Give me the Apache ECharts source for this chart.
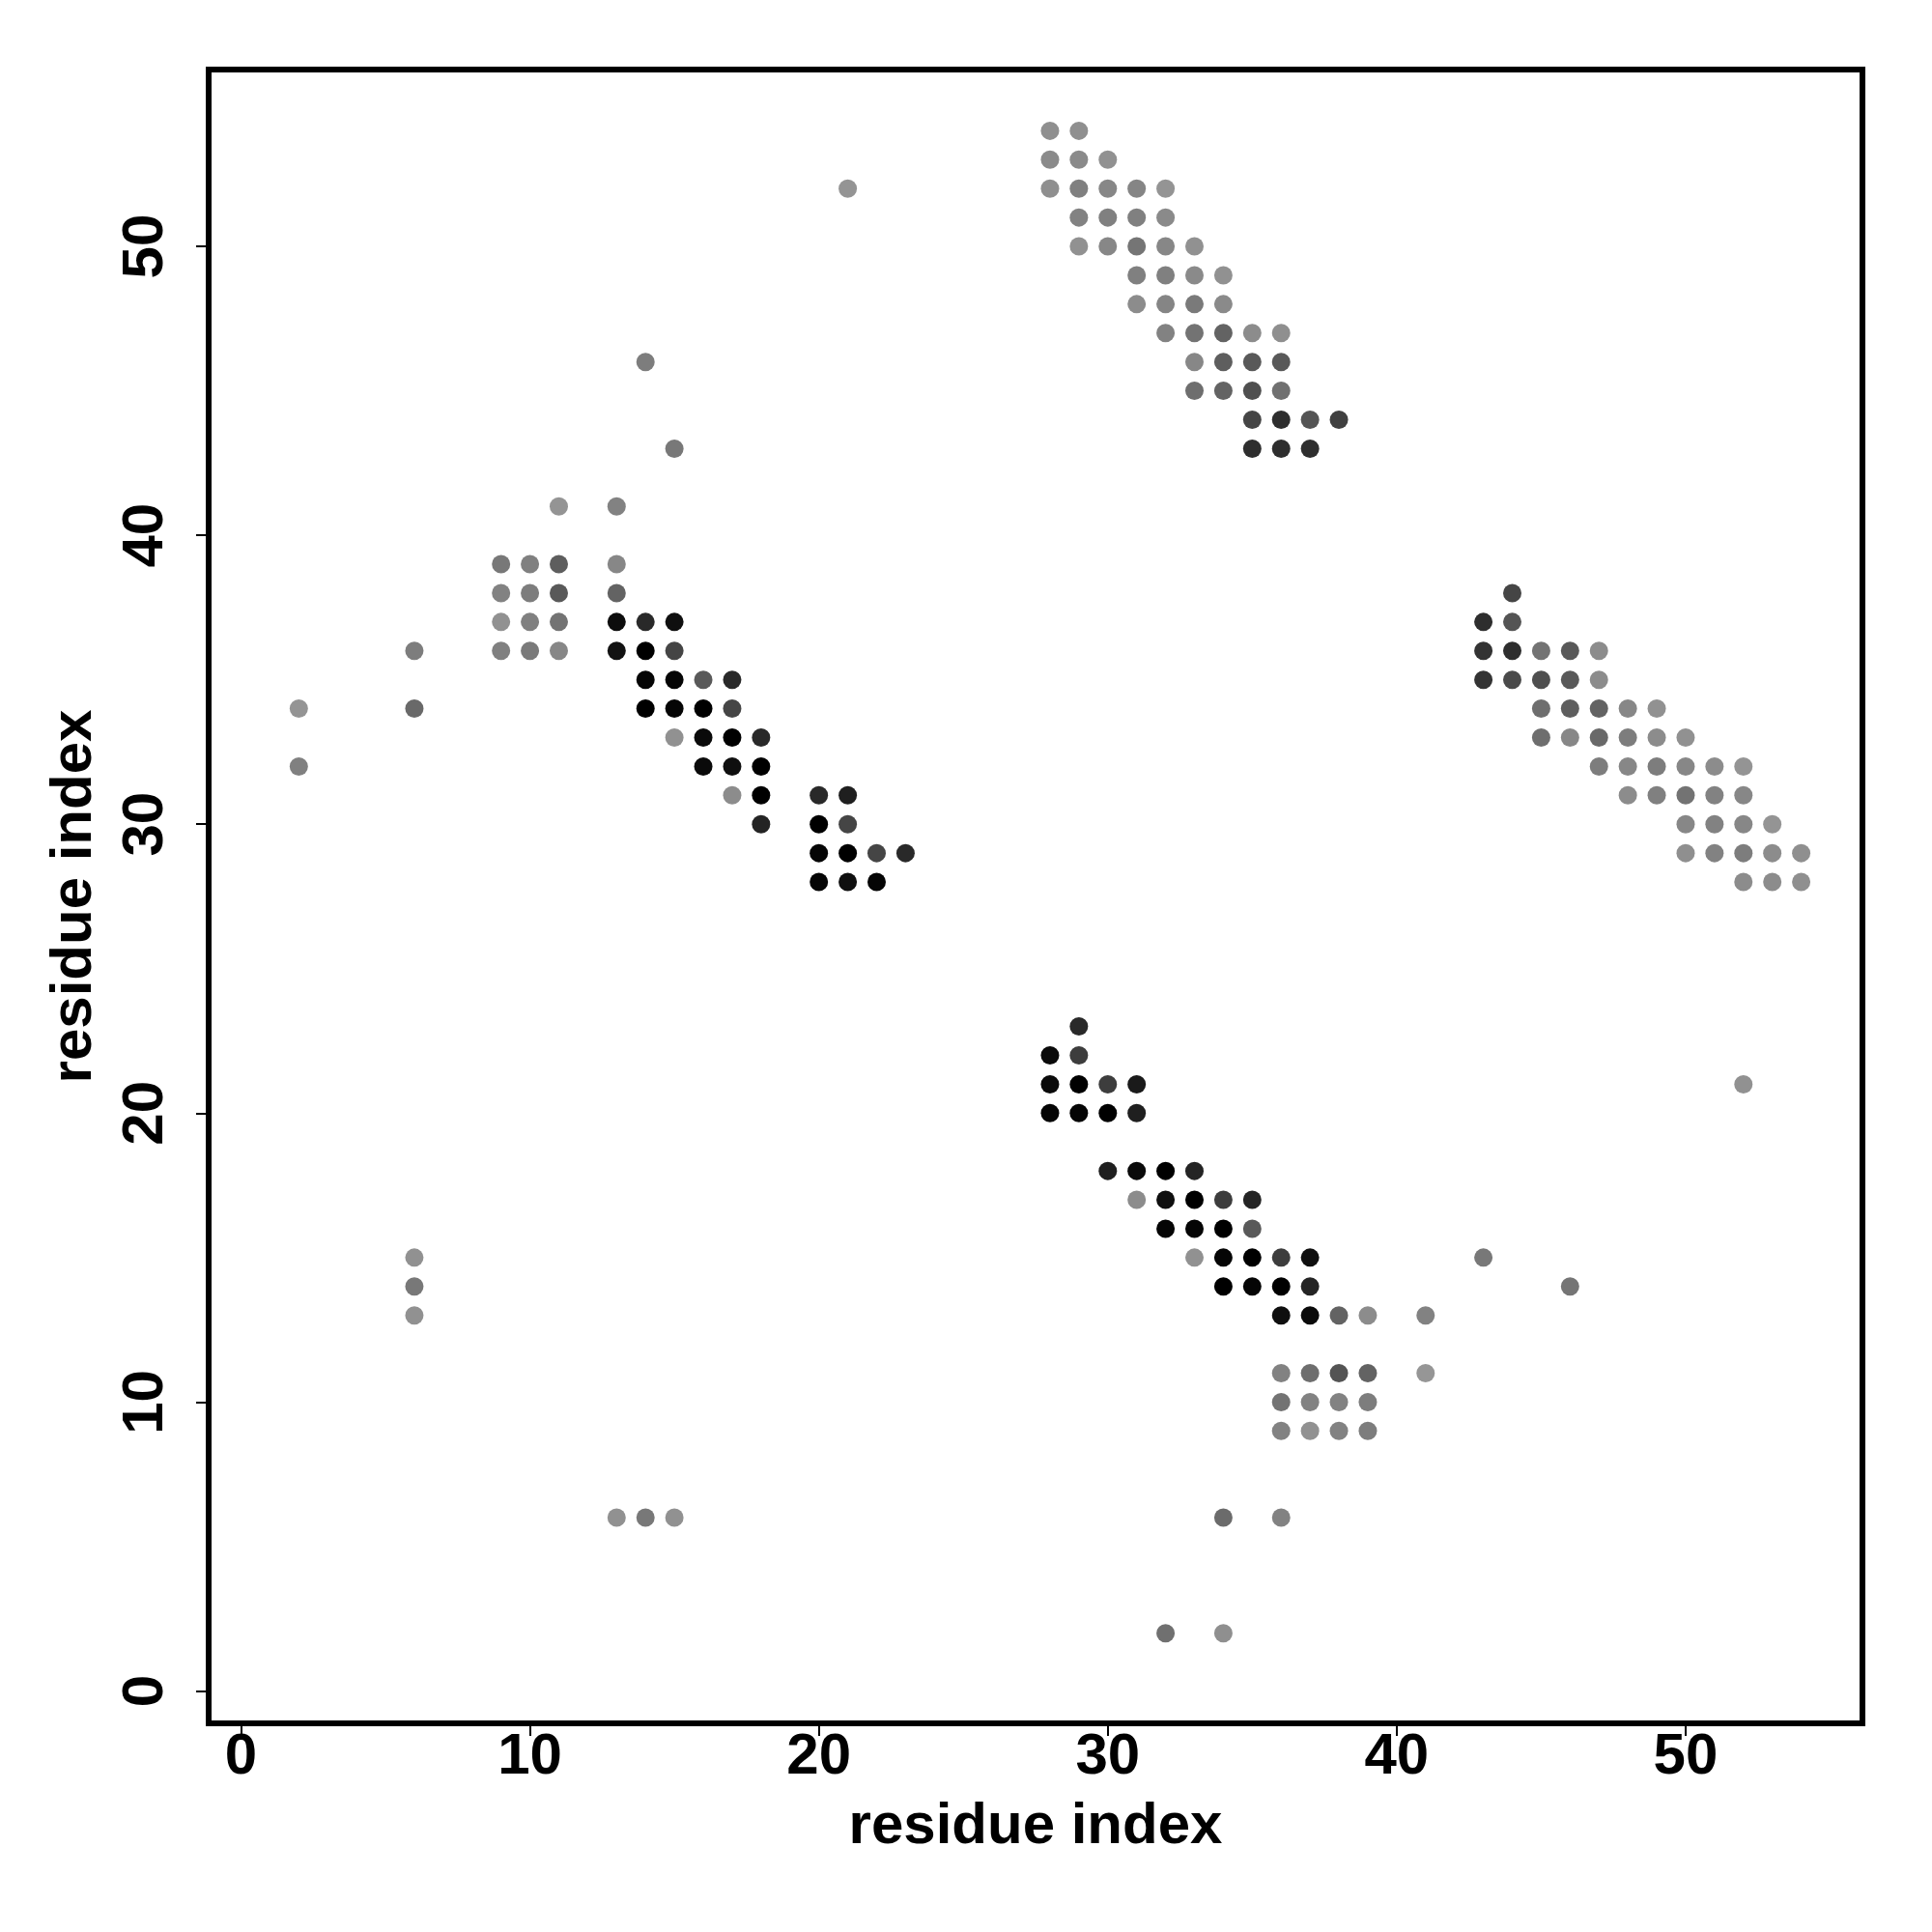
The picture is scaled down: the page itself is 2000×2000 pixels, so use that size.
<!DOCTYPE html>
<html>
<head>
<meta charset="utf-8">
<script src="https://cdn.jsdelivr.net/npm/echarts@6/dist/echarts.min.js"></script>
<style>html,body{margin:0;padding:0;background:#fff;}#chart{width:2000px;height:2000px;}</style>
</head>
<body>
<div id="chart"></div>
<script>
// residue i (x axis) of each contact, row by row (top row first)
const contactX = [
  28,29,
  28,29,30,
  21,28,29,30,31,32,
  29,30,31,32,
  29,30,31,32,33,
  31,32,33,34,
  31,32,33,34,
  32,33,34,35,36,
  14,33,34,35,36,
  33,34,35,36,
  35,36,37,38,
  15,35,36,37,
  11,13,
  9,10,11,13,
  9,10,11,13,44,
  9,10,11,13,14,15,43,44,
  6,9,10,11,13,14,15,43,44,45,46,47,
  14,15,16,17,43,44,45,46,47,
  2,6,14,15,16,17,45,46,47,48,49,
  15,16,17,18,45,46,47,48,49,50,
  2,16,17,18,47,48,49,50,51,52,
  17,18,20,21,48,49,50,51,52,
  18,20,21,50,51,52,53,
  20,21,22,23,50,51,52,53,54,
  20,21,22,52,53,54,
  29,
  28,29,
  28,29,30,31,52,
  28,29,30,31,
  30,31,32,33,
  31,32,33,34,35,
  32,33,34,35,
  6,33,34,35,36,37,43,
  6,34,35,36,37,46,
  6,36,37,38,39,41,
  36,37,38,39,41,
  36,37,38,39,
  36,37,38,39,
  13,14,15,34,36,
  32,34
];
// residue j (y axis) of each contact
const contactY = [
  54,54,
  53,53,53,
  52,52,52,52,52,52,
  51,51,51,51,
  50,50,50,50,50,
  49,49,49,49,
  48,48,48,48,
  47,47,47,47,47,
  46,46,46,46,46,
  45,45,45,45,
  44,44,44,44,
  43,43,43,43,
  41,41,
  39,39,39,39,
  38,38,38,38,38,
  37,37,37,37,37,37,37,37,
  36,36,36,36,36,36,36,36,36,36,36,36,
  35,35,35,35,35,35,35,35,35,
  34,34,34,34,34,34,34,34,34,34,34,
  33,33,33,33,33,33,33,33,33,33,
  32,32,32,32,32,32,32,32,32,32,
  31,31,31,31,31,31,31,31,31,
  30,30,30,30,30,30,30,
  29,29,29,29,29,29,29,29,29,
  28,28,28,28,28,28,
  23,
  22,22,
  21,21,21,21,21,
  20,20,20,20,
  18,18,18,18,
  17,17,17,17,17,
  16,16,16,16,
  15,15,15,15,15,15,15,
  14,14,14,14,14,14,
  13,13,13,13,13,13,
  11,11,11,11,11,
  10,10,10,10,
  9,9,9,9,
  6,6,6,6,6,
  2,2
];
// contact strength (0 = none, 1 = certain), shown as grey level
const contactP = [
  .44,.44,
  .46,.46,.43,
  .42,.44,.50,.47,.48,.42,
  .49,.50,.50,.46,
  .43,.47,.54,.47,.43,
  .50,.50,.46,.43,
  .45,.48,.52,.46,
  .49,.55,.61,.45,.44,
  .51,.47,.63,.65,.65,
  .57,.61,.69,.56,
  .73,.82,.67,.75,
  .53,.82,.82,.82,
  .42,.49,
  .53,.50,.63,.47,
  .49,.51,.65,.61,.73,
  .43,.50,.55,.95,.84,.94,.82,.67,
  .51,.50,.52,.47,.93,1.00,.73,.80,.82,.55,.65,.45,
  .98,.98,.65,.84,.80,.71,.69,.65,.45,
  .42,.59,1.00,.98,1.00,.73,.57,.63,.61,.47,.43,
  .43,.96,1.00,.84,.57,.47,.59,.51,.45,.43,
  .50,.96,.94,1.00,.51,.47,.51,.47,.45,.42,
  .45,1.00,.84,.88,.45,.50,.55,.49,.47,
  .86,1.00,.73,.47,.49,.47,.42,
  .98,1.00,.73,.84,.44,.49,.51,.45,.44,
  .98,.94,.98,.45,.45,.44,
  .84,
  .96,.76,
  .96,1.00,.76,.90,.43,
  .98,.98,1.00,.88,
  .88,.96,1.00,.86,
  .45,.94,1.00,.76,.86,
  .98,.98,1.00,.65,
  .43,.43,.98,1.00,.76,.94,.53,
  .53,1.00,.98,1.00,.86,.54,
  .43,.94,.96,.61,.45,.49,
  .49,.57,.67,.61,.41,
  .55,.49,.49,.51,
  .49,.43,.49,.51,
  .43,.53,.43,.58,.49,
  .56,.44
];
const tickValues = [0, 10, 20, 30, 40, 50];
const axisTitle = 'residue index';

const points = contactX.map((x, i) => [x, contactY[i], contactP[i]]);

const FONT = 'Liberation Sans, Arial, Helvetica, sans-serif';
const chart = echarts.init(document.getElementById('chart'), null, {renderer: 'canvas', width: 2000, height: 2000});

function axisCommon(isY) {
  return {
    type: 'value',
    min: -1.12,
    max: 56.12,
    name: axisTitle,
    nameLocation: 'middle',
    nameGap: isY ? 109 : 77,
    nameTextStyle: {fontFamily: FONT, fontWeight: 'bold', fontSize: 60, color: '#000'},
    axisLine: {show: false, onZero: false},
    splitLine: {show: false},
    axisTick: {show: true, inside: false, length: 13, customValues: tickValues, lineStyle: {color: '#000', width: 2}},
    axisLabel: {
      show: true,
      customValues: tickValues,
      margin: isY ? 35 : 5,
      rotate: isY ? 90 : 0,
      fontFamily: FONT, fontWeight: 'bold', fontSize: 60, color: '#000'
    }
  };
}

chart.setOption({
  backgroundColor: '#ffffff',
  animation: false,
  grid: {left: 216, top: 72, width: 1712, height: 1712, show: true, borderColor: '#000', borderWidth: 6, backgroundColor: 'transparent'},
  xAxis: axisCommon(false),
  yAxis: axisCommon(true),
  visualMap: {show: false, dimension: 2, min: 0, max: 1, inRange: {color: ['#ffffff', '#000000']}},
  series: [{
    type: 'scatter',
    symbol: 'circle',
    symbolSize: 19,
    data: points,
    itemStyle: {opacity: 1}
  }]
});
</script>
</body>
</html>
